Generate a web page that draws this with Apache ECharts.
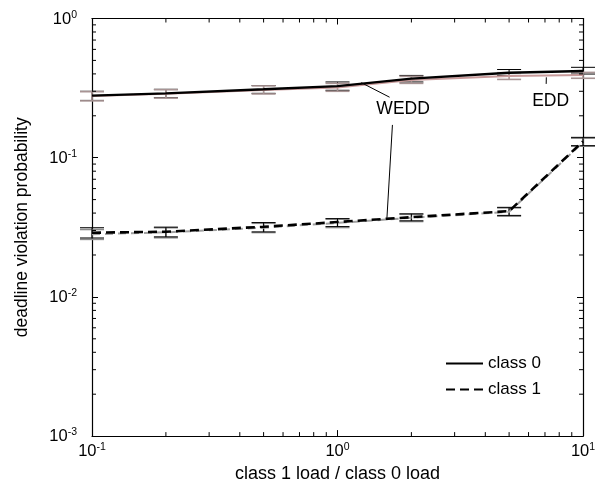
<!DOCTYPE html>
<html>
<head>
<meta charset="utf-8">
<script src="https://cdn.jsdelivr.net/npm/echarts@6/dist/echarts.min.js"></script>
<style>html,body{margin:0;padding:0;background:#fff}#c{width:607px;height:488px}</style>
</head>
<body>
<div id="c"></div>
<script>
// ---- data ----
const xValues = [0.1, 0.2, 0.5, 1, 2, 5, 10];
const wedd0 = [0.279, 0.290, 0.310, 0.327, 0.370, 0.408, 0.420];
const wedd0Low = [0.258, 0.270, 0.290, 0.305, 0.350, 0.390, 0.399];
const wedd0High = [0.300, 0.310, 0.330, 0.350, 0.390, 0.430, 0.446];
const edd0 = [0.277, 0.288, 0.307, 0.320, 0.362, 0.386, 0.392];
const edd0Low = [0.256, 0.268, 0.287, 0.300, 0.342, 0.365, 0.372];
const edd0High = [0.298, 0.308, 0.328, 0.342, 0.384, 0.408, 0.410];
const wedd1 = [0.0289, 0.0294, 0.0319, 0.0345, 0.0374, 0.0413, 0.131];
const wedd1Low = [0.0265, 0.0270, 0.0293, 0.0320, 0.0352, 0.0385, 0.122];
const wedd1High = [0.0314, 0.0317, 0.0342, 0.0365, 0.0395, 0.0440, 0.140];
const edd1 = [0.0282, 0.0291, 0.0314, 0.0340, 0.0370, 0.0408, 0.129];
const edd1Low = [0.0259, 0.0266, 0.0290, 0.0315, 0.0348, 0.0380, 0.121];
const edd1High = [0.0305, 0.0314, 0.0338, 0.0362, 0.0392, 0.0436, 0.138];
const xTicks = [0.1, 1, 10];
const yTicks = [0.001, 0.01, 0.1, 1];
const seriesNames = ['class 0', 'class 1'];
const xTitle = 'class 1 load / class 0 load';
const yTitle = 'deadline violation probability';
// annotation anchors in data space
const annWEDD = {text: 'WEDD', at: [1.85, 0.224], lines: [[[1.25, 0.346], [1.63, 0.272]], [[1.674, 0.172], [1.59, 0.037]]]};
const annEDD = {text: 'EDD', at: [7.38, 0.253], lines: [[[7.09, 0.378], [7.08, 0.339]]]};

const X_MIN = 0.1, X_MAX = 10, Y_MIN = 0.001, Y_MAX = 1;
const FONT = 'Liberation Sans';

function minorList(lo, hi) {
  const out = [];
  for (let d = lo; d < hi * 0.999; d *= 10) {
    for (let k = 2; k <= 9; k++) out.push(d * k);
  }
  return out;
}
const xMinor = minorList(X_MIN, X_MAX);
const yMinor = minorList(Y_MIN, Y_MAX);

function pw(v) {
  const e = Math.round(Math.log10(v));
  return '{b|10}{e|' + e + '}';
}
const richLbl = {
  b: {fontSize: 16.5, fontFamily: FONT, color: '#000', lineHeight: 18, verticalAlign: 'bottom'},
  e: {fontSize: 10.5, fontFamily: FONT, color: '#000', lineHeight: 11, verticalAlign: 'top'}
};

function errData(lo, hi) {
  return xValues.map((x, i) => [x, lo[i], hi[i]]);
}
function errRender(color, lw) {
  return function (params, api) {
    const x = api.value(0);
    const p1 = api.coord([x, api.value(1)]);
    const p2 = api.coord([x, api.value(2)]);
    const w = 12;
    const st = {stroke: color, lineWidth: lw};
    return {
      type: 'group',
      children: [
        {type: 'line', shape: {x1: p1[0], y1: p1[1], x2: p2[0], y2: p2[1]}, style: st},
        {type: 'line', shape: {x1: p1[0] - w, y1: p1[1], x2: p1[0] + w, y2: p1[1]}, style: st},
        {type: 'line', shape: {x1: p2[0] - w, y1: p2[1], x2: p2[0] + w, y2: p2[1]}, style: st}
      ]
    };
  };
}

const chart = echarts.init(document.getElementById('c'), null, {renderer: 'canvas'});

const axisCommon = {
  type: 'log', logBase: 10,
  axisLine: {show: true, lineStyle: {color: '#000', width: 1.2}},
  axisTick: {show: true, inside: true, length: 6, lineStyle: {color: '#000', width: 1}},
  minorTick: {show: false},
  splitLine: {show: false}
};

const option = {
  animation: false,
  backgroundColor: '#fff',
  grid: {left: 92, right: 24, top: 18.5, bottom: 51, containLabel: false},
  xAxis: [
    Object.assign({}, axisCommon, {
      min: X_MIN, max: X_MAX, interval: 1, position: 'bottom',
      name: xTitle, nameLocation: 'middle', nameGap: 28,
      nameTextStyle: {fontSize: 18, fontFamily: FONT, color: '#000'},
      axisLabel: {show: true, margin: 6, formatter: pw, rich: richLbl}
    }),
    Object.assign({}, axisCommon, {
      min: X_MIN, max: X_MAX, interval: 1, position: 'top', axisLabel: {show: false}
    })
  ],
  yAxis: [
    Object.assign({}, axisCommon, {
      min: Y_MIN, max: Y_MAX, interval: 1, position: 'left',
      name: yTitle, nameLocation: 'middle', nameGap: 61, nameRotate: 90,
      nameTextStyle: {fontSize: 17.5, fontFamily: FONT, color: '#000'},
      axisLabel: {show: true, margin: 15, formatter: pw, rich: richLbl}
    }),
    Object.assign({}, axisCommon, {
      min: Y_MIN, max: Y_MAX, interval: 1, position: 'right', axisLabel: {show: false}
    })
  ],
  legend: {
    show: true, orient: 'vertical', left: 440, top: 350,
    data: seriesNames, itemWidth: 37, itemHeight: 14, itemGap: 9,
    itemStyle: {color: 'rgba(0,0,0,0)', borderWidth: 0, opacity: 0},
    textStyle: {fontSize: 17, fontFamily: FONT, color: '#000'}
  },
  series: [
    {type: 'custom', name: 'edd1err', renderItem: errRender('#8c8c8c', 1.6), data: errData(edd1Low, edd1High), z: 2, silent: true},
    {type: 'custom', name: 'wedd0err', renderItem: errRender('#000', 1), data: errData(wedd0Low, wedd0High), z: 2, silent: true},
    {type: 'custom', name: 'edd0err', renderItem: errRender('#a89494', 1.6), data: errData(edd0Low, edd0High), z: 3, silent: true},
    {type: 'line', name: 'EDD class 0', data: xValues.map((x, i) => [x, edd0[i]]), symbol: 'none',
     lineStyle: {color: '#c89a9a', width: 2}, z: 4},
    {type: 'line', name: 'EDD class 1', data: xValues.map((x, i) => [x, edd1[i]]), symbol: 'none',
     lineStyle: {color: '#a0a0a0', width: 2, type: [8, 5]}, z: 4},
    {type: 'custom', name: 'wedd1err', renderItem: errRender('#000', 1), data: errData(wedd1Low, wedd1High), z: 4, silent: true},
    {type: 'line', name: seriesNames[0], data: xValues.map((x, i) => [x, wedd0[i]]), symbol: 'none',
     itemStyle: {color: '#000'}, lineStyle: {color: '#000', width: 2.4}, z: 5},
    {type: 'line', name: seriesNames[1], data: xValues.map((x, i) => [x, wedd1[i]]), symbol: 'none',
     itemStyle: {color: '#000'}, lineStyle: {color: '#000', width: 2.6, type: [9, 5]}, z: 5},
    {
      type: 'custom', name: 'minorTicks', silent: true, z: 6,
      data: [0],
      renderItem: function (params, api) {
        const ch = [];
        const st = {stroke: '#000', lineWidth: 1};
        xMinor.forEach(v => {
          const b = api.coord([v, Y_MIN]);
          const t = api.coord([v, Y_MAX]);
          ch.push({type: 'line', shape: {x1: b[0], y1: b[1], x2: b[0], y2: b[1] - 4}, style: st});
          ch.push({type: 'line', shape: {x1: t[0], y1: t[1], x2: t[0], y2: t[1] + 4}, style: st});
        });
        yMinor.forEach(v => {
          const l = api.coord([X_MIN, v]);
          const r = api.coord([X_MAX, v]);
          ch.push({type: 'line', shape: {x1: l[0], y1: l[1], x2: l[0] + 4, y2: l[1]}, style: st});
          ch.push({type: 'line', shape: {x1: r[0], y1: r[1], x2: r[0] - 4, y2: r[1]}, style: st});
        });
        return {type: 'group', children: ch};
      }
    },
    {
      type: 'custom', name: 'annotations', silent: true, z: 7,
      data: [0],
      renderItem: function (params, api) {
        const ch = [];
        [annWEDD, annEDD].forEach(a => {
          const p = api.coord(a.at);
          ch.push({type: 'text', x: p[0], y: p[1], style: {text: a.text, fontSize: 17.5, fontFamily: FONT, fill: '#000', align: 'center', verticalAlign: 'middle'}});
          a.lines.forEach(l => {
            const p1 = api.coord(l[0]), p2 = api.coord(l[1]);
            ch.push({type: 'line', shape: {x1: p1[0], y1: p1[1], x2: p2[0], y2: p2[1]}, style: {stroke: '#000', lineWidth: 1}});
          });
        });
        return {type: 'group', children: ch};
      }
    }
  ]
};
chart.setOption(option);
</script>
</body>
</html>
